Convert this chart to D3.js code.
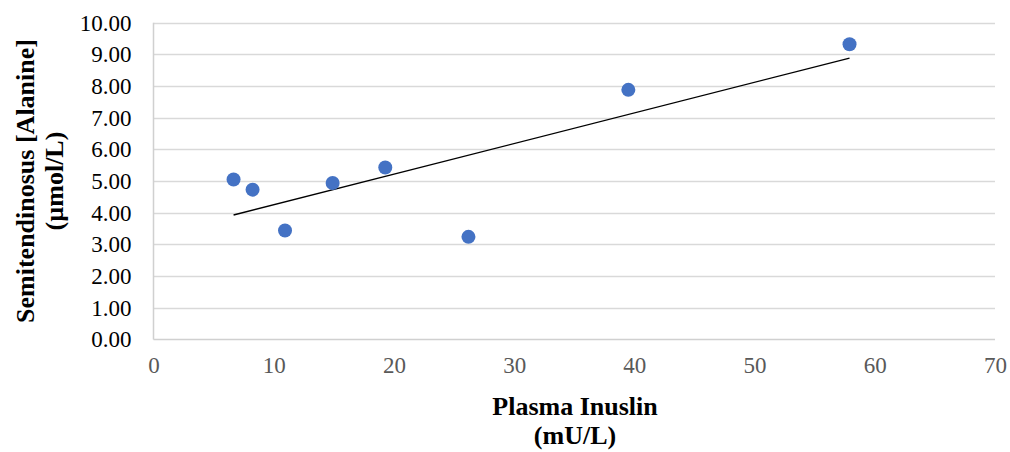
<!DOCTYPE html>
<html><head><meta charset="utf-8">
<script src="https://cdn.jsdelivr.net/npm/d3@7/dist/d3.min.js"></script>
<style>body{margin:0;background:#fff;} svg{display:block;}</style>
</head><body>
<svg id="chart" width="1010" height="452"></svg>
<script>
const insulin = [6.66, 8.24, 10.94, 14.9, 19.28, 26.2, 39.5, 57.9];
const alanine = [5.05, 4.73, 3.44, 4.94, 5.43, 3.24, 7.88, 9.32];
const xTicks = [0, 10, 20, 30, 40, 50, 60, 70];
const yTicks = [0, 1, 2, 3, 4, 5, 6, 7, 8, 9, 10];
const xTitle = ["Plasma Inuslin", "(mU/L)"];
const yTitle = ["Semitendinosus [Alanine]", "(µmol/L)"];

const svg = d3.select("#chart");
const x = d3.scaleLinear().domain([0, 70]).range([153.5, 995]);
const y = d3.scaleLinear().domain([0, 10]).range([339.5, 22.7]);
const font = "'Liberation Serif','Times New Roman',serif";

// gridlines
svg.append("g").selectAll("line").data(yTicks.filter(d => d > 0)).join("line")
  .attr("x1", x(0)).attr("x2", x(70))
  .attr("y1", d => Math.round(y(d)) + 0.5).attr("y2", d => Math.round(y(d)) + 0.5)
  .attr("stroke", "#d9d9d9").attr("stroke-width", 1.3);

// axes lines
svg.append("line").attr("x1", x(0)).attr("x2", x(0)).attr("y1", y(10)).attr("y2", y(0))
  .attr("stroke", "#d0d0d0").attr("stroke-width", 1.5);
svg.append("line").attr("x1", x(0)).attr("x2", x(70)).attr("y1", y(0)).attr("y2", y(0))
  .attr("stroke", "#d0d0d0").attr("stroke-width", 1.5);

// y tick labels
const yAxis = d3.axisLeft(y).tickValues(yTicks).tickFormat(d3.format(".2f")).tickSize(0).tickPadding(22);
const ga = svg.append("g").attr("transform", `translate(${x(0)},0)`).call(yAxis);
ga.select(".domain").remove();
ga.selectAll("text").attr("font-family", font).attr("font-size", 23).attr("fill", "#000");

// x tick labels
const xAxis = d3.axisBottom(x).tickValues(xTicks).tickFormat(d3.format("d")).tickSize(0).tickPadding(17);
const gx = svg.append("g").attr("transform", `translate(0,${y(0)})`).call(xAxis);
gx.select(".domain").remove();
gx.selectAll("text").attr("font-family", font).attr("font-size", 23).attr("fill", "#595959");

// trendline (least squares)
const n = insulin.length;
const mx = d3.mean(insulin), my = d3.mean(alanine);
let sxy = 0, sxx = 0;
for (let i = 0; i < n; i++) { sxy += (insulin[i]-mx)*(alanine[i]-my); sxx += (insulin[i]-mx)**2; }
const slope = sxy / sxx, icpt = my - slope * mx;
const [x0, x1] = d3.extent(insulin);
svg.append("line")
  .attr("x1", x(x0)).attr("y1", y(icpt + slope*x0))
  .attr("x2", x(x1)).attr("y2", y(icpt + slope*x1))
  .attr("stroke", "#000").attr("stroke-width", 1.4);

// points
svg.append("g").selectAll("circle").data(insulin.map((v, i) => [v, alanine[i]])).join("circle")
  .attr("cx", d => x(d[0])).attr("cy", d => y(d[1])).attr("r", 7)
  .attr("fill", "#4472c4");

// titles
function title(txt, tx, ty, rot) {
  svg.append("g").attr("transform", `translate(${tx},${ty}) rotate(${rot})`)
    .append("text").attr("text-anchor", "middle")
    .attr("font-family", font).attr("font-weight", "bold").attr("font-size", 26).attr("fill", "#000")
    .text(txt);
}
title(xTitle[0], 575, 415, 0);
title(xTitle[1], 575, 444, 0);
title(yTitle[0], 34, 181, -90);
title(yTitle[1], 63, 181, -90);
</script>
</body></html>
